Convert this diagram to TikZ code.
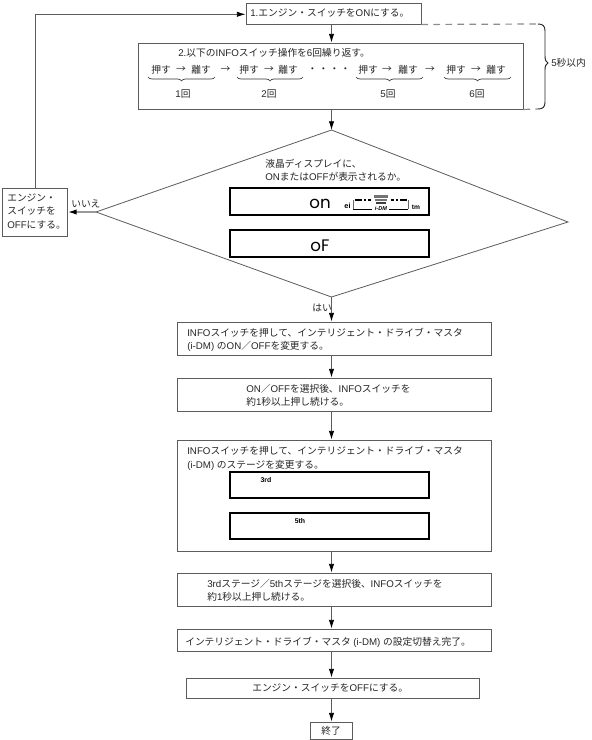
\documentclass[tikz,border=0pt]{standalone}
\usepackage{fontspec}
\usetikzlibrary{arrows.meta,decorations.pathreplacing}
\setmainfont{Liberation Sans}
\newfontfamily\jp{Noto Sans CJK JP}
\newfontfamily\lcdf{Poppins}
\newcommand\J[1]{{\jp #1}}
\definecolor{ln}{gray}{0.36}
\tikzset{
  flowbox/.style={draw=ln,line width=0.7pt,fill=white,inner sep=0pt},
  lcdbox/.style={draw=black,line width=1.2pt,inner sep=0pt},
  txt/.style={inner sep=0pt,anchor=west,align=left,text=black!85,font=\fontsize{7.3}{10.1}\selectfont},
  ctxt/.style={txt,anchor=center,align=center},
  lcdtxt/.style={inner sep=0pt,anchor=center,font=\lcdf\fontsize{12.5}{14}\selectfont},
  arr/.style={draw=ln,line width=0.6pt,-{Latex[length=6.5pt,width=4pt,color=black]}},
  flow/.style={draw=ln,line width=0.6pt},
  dashline/.style={draw=black!45,line width=0.9pt,dash pattern=on 5pt off 4pt},
  ubrace/.style={draw=black!80,line width=0.5pt,decorate,decoration={brace,mirror,amplitude=3pt}}
}
\newcommand\bx[6]{\pgfmathsetmacro\bw{(#4-#2)*0.75}\pgfmathsetmacro\bh{(#5-#3)*0.75}\node[#6,minimum width=\bw pt,minimum height=\bh pt] (#1) at ({(#2+#4)/2},{(#3+#5)/2}) {};}
\begin{document}
\begin{tikzpicture}[x=0.75pt,y=-0.75pt]
\useasboundingbox[fill=white] (0,0) rectangle (592,740);
% boxes
\bx{bone}{246}{3}{421}{24}{flowbox}
\bx{btwo}{138.5}{43}{523}{109}{flowbox}
\bx{bleft}{2.5}{188}{67.5}{236}{flowbox}
\bx{ba}{177}{322}{491}{355}{flowbox}
\bx{bb}{177}{378}{491}{411}{flowbox}
\bx{bc}{177}{440}{491}{551}{flowbox}
\bx{bd}{177}{573}{491}{606}{flowbox}
\bx{be}{177}{629}{491}{651}{flowbox}
\bx{bf}{186}{678}{479}{698}{flowbox}
\bx{bg}{310}{722}{352}{739}{flowbox}
\bx{lone}{230}{188}{429}{215}{lcdbox}
\bx{ltwo}{230}{230}{429}{257}{lcdbox}
\bx{lthree}{230}{472}{429}{498}{lcdbox}
\bx{lfour}{230}{513}{429}{539}{lcdbox}
% diamond
\coordinate (dt) at (331.5,130);
\coordinate (dr) at (568,222);
\coordinate (db) at (331.5,297);
\coordinate (dl) at (96,212);
\draw[flow] (dt) -- (dr) -- (db) -- (dl) -- cycle;
% connectors
\draw[arr] (bone.south -| dt) -- (btwo.north -| dt);
\draw[arr] (btwo.south -| dt) -- (dt);
\draw[arr] (db) -- (ba.north -| db);
\draw[arr] (ba.south -| db) -- (bb.north -| db);
\draw[arr] (bb.south -| db) -- (bc.north -| db);
\draw[arr] (bc.south -| db) -- (bd.north -| db);
\draw[arr] (bd.south -| db) -- (be.north -| db);
\draw[arr] (be.south -| db) -- (bf.north -| db);
\draw[arr] (bf.south -| db) -- (bg.north -| db);
\draw[arr,draw=black!40,line width=1pt] (dl) -- (bleft.east |- dl);
\coordinate (lc) at (35.7,14.3);
\draw[flow] (bleft.north -| lc) -- (lc);
\draw[arr] (lc) -- (bone.west |- lc);
% time span
\coordinate (tone) at (538,24);
\coordinate (ttwo) at (538,109);
\draw[dashline] (bone.south east) -- (tone);
\draw[dashline] (btwo.south east) -- (ttwo);
\draw[draw=black!85,line width=0.7pt] (tone) .. controls (543,24) and (545,26) .. (545,31) -- (545,56) .. controls (545,60) and (546,62) .. (548,63) .. controls (546,64) and (545,66) .. (545,70) -- (545,102) .. controls (545,107) and (543,109) .. (ttwo);
\node[txt] (tspan) at (551,63) {5\J{秒以内}};
% texts
\node[txt] (tone1) at (250,13) {1.\J{エンジン・スイッチを}ON\J{にする。}};
\node[txt] (ttwo1) at (178,52.7) {2.\J{以下の}INFO\J{スイッチ操作を}6\J{回繰り返す。}};
\foreach \n/\a/\b/\c/\d/\e/\f/\g in {a/151/181/191/148/215/183/1,b/239/269/278/237/303/269/2,c/358/387/398/356/423/388/5,d/446/476/486/444/511/477/6}{
  \node[txt] (pu\n) at (\a,70) {\J{押す}};
  \node[ctxt] (ar\n) at (\b,70) {\J{→}};
  \node[txt] (ha\n) at (\c,70) {\J{離す}};
  \draw[ubrace] (\d,77) -- (\e,77);
  \node[ctxt] (ct\n) at (\f,94) {\g\J{回}};
}
\node[ctxt] (ara) at (225.5,70) {\J{→}};
\node[ctxt] (arb) at (430,70) {\J{→}};
\node[ctxt] (dots) at (329,70) {\J{・\hspace{1pt}・\hspace{1pt}・\hspace{1pt}・}};
\node[txt] (tq) at (265,170) {\J{液晶ディスプレイに、}\\ON\J{または}OFF\J{が表示されるか。}};
\node[txt] (tleft) at (7,211) {\J{エンジン・}\\\J{スイッチを}\\OFF\J{にする。}};
\node[txt] (tno) at (71,204) {\J{いいえ}};
\node[txt] (tyes) at (312,308) {\J{はい}};
\node[txt] (ta) at (187,340) {INFO\J{スイッチを押して、インテリジェント・ドライブ・マスタ}\\(i-DM) \J{の}ON\J{／}OFF\J{を変更する。}};
\node[txt] (tb) at (246,395.5) {ON\J{／}OFF\J{を選択後、}INFO\J{スイッチを}\\\J{約}1\J{秒以上押し続ける。}};
\node[txt] (tc) at (187,458.5) {INFO\J{スイッチを押して、インテリジェント・ドライブ・マスタ}\\(i-DM) \J{のステージを変更する。}};
\node[txt] (td) at (207,590.5) {3rd\J{ステージ／}5th\J{ステージを選択後、}INFO\J{スイッチを}\\\J{約}1\J{秒以上押し続ける。}};
\node[txt] (te) at (185,642) {\J{インテリジェント・ドライブ・マスタ} (i-DM) \J{の設定切替え完了。}};
\node[txt] (tf) at (252,688) {\J{エンジン・スイッチを}OFF\J{にする。}};
\node[ctxt] (tg) at (331,731) {\J{終了}};
% lcd content
\node[lcdtxt] (lon) at (320,204) {on};
\node[lcdtxt] (lof) at (320,246) {oF};
\node[inner sep=0pt,font=\bfseries\fontsize{5.2}{6}\selectfont] (lrd) at (266,480) {3rd};
\node[inner sep=0pt,font=\bfseries\fontsize{5.2}{6}\selectfont] (lth) at (300,521) {5th};
% i-DM indicator
\node[inner sep=0pt,font=\bfseries\fontsize{5.5}{6}\selectfont] (ime) at (347.5,206) {ei};
\node[inner sep=0pt,font=\bfseries\itshape\fontsize{4.2}{5}\selectfont] (imd) at (381,208.5) {i-DM};
\node[inner sep=0pt,font=\bfseries\fontsize{5}{6}\selectfont] (imt) at (416,207) {tm};
\draw[black,line width=0.4pt] (353,209) -- (372,209) (389,209) -- (408,209);
\draw[black!60,line width=0.3pt] (353,209) -- (353,200) (408,209) -- (408,200);
\draw[black,line width=0.9pt] (355,200) -- (362,200) (364,200) -- (366,200) (368,200) -- (371,200) (391,200) -- (394,200) (396,200) -- (398,200) (400,200) -- (407,200);
\draw[black!55,line width=1.7pt] (374,196.5) -- (388,196.5) (375,200) -- (387,200);
\draw[black!75,line width=1.2pt] (376,203) -- (386,203);
\end{tikzpicture}
\end{document}
